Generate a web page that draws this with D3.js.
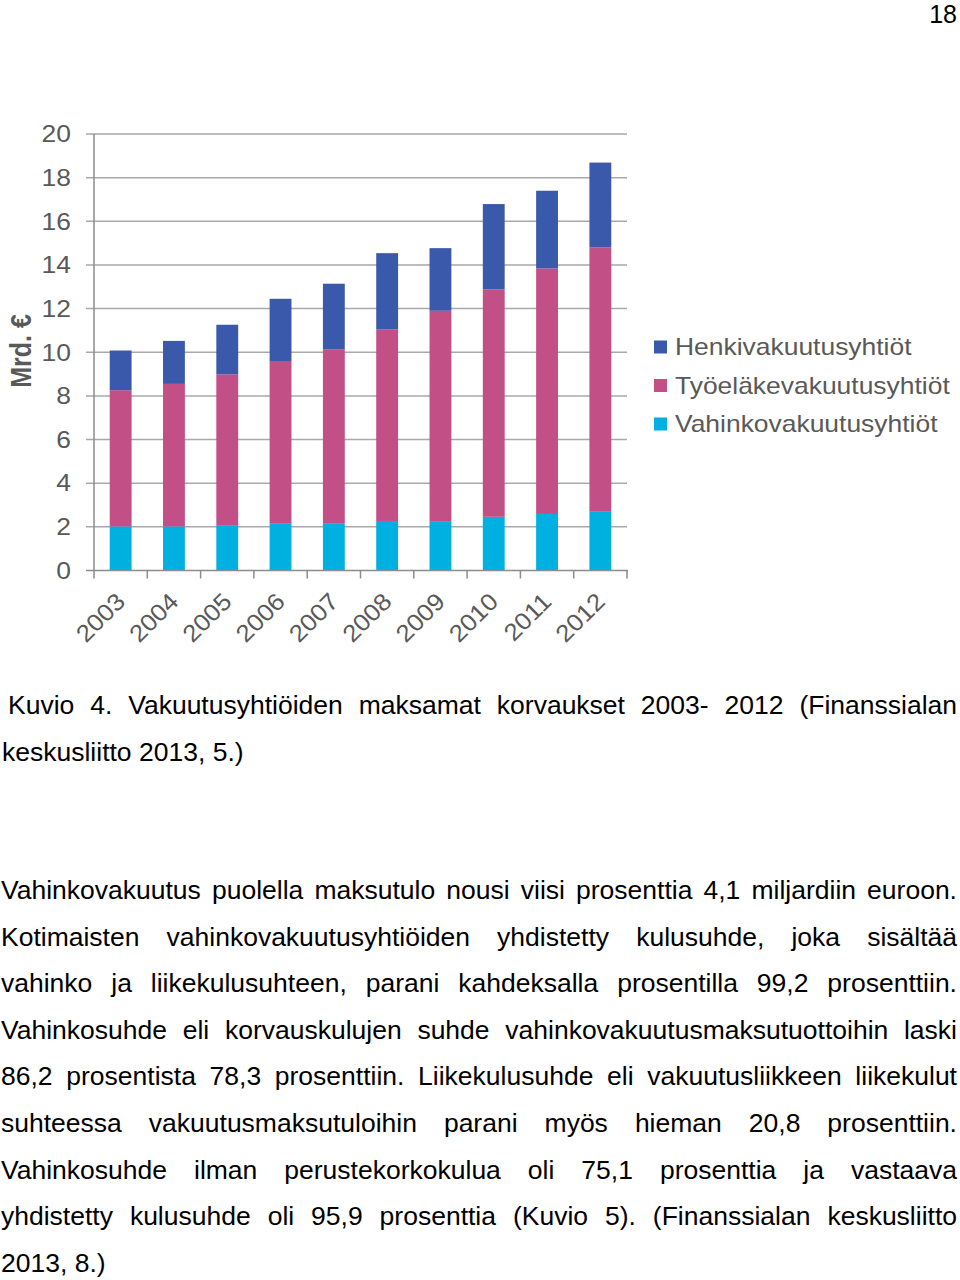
<!DOCTYPE html>
<html><head><meta charset="utf-8">
<script src="https://cdn.jsdelivr.net/npm/d3@7"></script>
<style>
html,body{margin:0;padding:0;background:#fff;}
svg{display:block;}
</style></head>
<body>
<svg id="page" width="960" height="1280"></svg>
<script>
// ---- data ----
const years = ["2003","2004","2005","2006","2007","2008","2009","2010","2011","2012"];
const vahinko  = [2.02, 2.02, 2.08, 2.17, 2.14, 2.27, 2.23, 2.46, 2.59, 2.72];
const tyoelake = [6.24, 6.53, 6.91, 7.43, 8.00, 8.77, 9.67, 10.42, 11.25, 12.08];
const henki    = [1.82, 1.97, 2.27, 2.85, 3.00, 3.50, 2.87, 3.91, 3.56, 3.89];
const seriesNames = ["Henkivakuutusyhtiöt","Työeläkevakuutusyhtiöt","Vahinkovakuutusyhtiöt"];
const yTicks = [0,2,4,6,8,10,12,14,16,18,20];
const yTitle = "Mrd. €";
const pageNumber = "18";
const captionLines = ["Kuvio 4. Vakuutusyhtiöiden maksamat korvaukset 2003- 2012 (Finanssialan",
                      "keskusliitto 2013, 5.)"];
const bodyLines = [
 "Vahinkovakuutus puolella maksutulo nousi viisi prosenttia 4,1 miljardiin euroon.",
 "Kotimaisten vahinkovakuutusyhtiöiden yhdistetty kulusuhde, joka sisältää",
 "vahinko ja liikekulusuhteen, parani kahdeksalla prosentilla 99,2 prosenttiin.",
 "Vahinkosuhde eli korvauskulujen suhde vahinkovakuutusmaksutuottoihin laski",
 "86,2 prosentista 78,3 prosenttiin. Liikekulusuhde eli vakuutusliikkeen liikekulut",
 "suhteessa vakuutusmaksutuloihin parani myös hieman 20,8 prosenttiin.",
 "Vahinkosuhde ilman perustekorkokulua oli 75,1 prosenttia ja vastaava",
 "yhdistetty kulusuhde oli 95,9 prosenttia (Kuvio 5). (Finanssialan keskusliitto",
 "2013, 8.)"
];

const colors = {"Henkivakuutusyhtiöt":"#3b59aa","Työeläkevakuutusyhtiöt":"#c24f86","Vahinkovakuutusyhtiöt":"#00b0e0"};
const FONT = "'Liberation Sans', Arial, Helvetica, sans-serif";
const TXT = "#595959";
const SX = 1.15; // horizontal stretch of chart image text

const svg = d3.select("#page");

// ---- page number ----
svg.append("text").attr("x",957).attr("y",23).attr("text-anchor","end")
  .attr("font-family",FONT).attr("font-size",25).attr("fill","#000").text(pageNumber);

// ---- chart ----
const x = d3.scaleBand().domain(years).range([94,627]).padding(0);
const y = d3.scaleLinear().domain([0,20]).range([570.5,134]);
const g = svg.append("g");

// gridlines
g.selectAll("line.grid").data(yTicks.filter(d=>d>0)).join("line")
  .attr("x1",86).attr("x2",627).attr("y1",d=>y(d)).attr("y2",d=>y(d))
  .attr("stroke","#a9a9a9").attr("stroke-width",1.5);

// stacked data
const table = years.map((yr,i)=>({year:yr,"Vahinkovakuutusyhtiöt":vahinko[i],"Työeläkevakuutusyhtiöt":tyoelake[i],"Henkivakuutusyhtiöt":henki[i]}));
const stack = d3.stack().keys(["Vahinkovakuutusyhtiöt","Työeläkevakuutusyhtiöt","Henkivakuutusyhtiöt"])(table);
const barW = x.bandwidth()*0.41;
g.selectAll("g.series").data(stack).join("g").attr("fill",d=>colors[d.key])
  .selectAll("rect").data(d=>d).join("rect")
  .attr("x",d=>x(d.data.year)+x.bandwidth()/2-barW/2)
  .attr("width",barW)
  .attr("y",d=>y(d[1]))
  .attr("height",d=>y(d[0])-y(d[1]));

// axes lines
g.append("line").attr("x1",94).attr("x2",94).attr("y1",y(20)).attr("y2",y(0))
  .attr("stroke","#8c8c8c").attr("stroke-width",1.5);
g.append("line").attr("x1",86).attr("x2",628).attr("y1",y(0)).attr("y2",y(0))
  .attr("stroke","#8c8c8c").attr("stroke-width",1.5);
// x ticks at band boundaries
const bounds = years.map(d=>x(d)).concat([x(years[years.length-1])+x.bandwidth()]);
g.selectAll("line.xt").data(bounds).join("line")
  .attr("x1",d=>d).attr("x2",d=>d).attr("y1",y(0)).attr("y2",y(0)+8)
  .attr("stroke","#8c8c8c").attr("stroke-width",1.5);

// y tick labels
g.selectAll("text.yl").data(yTicks).join("text")
  .attr("transform",d=>`translate(71,${y(d)}) scale(${SX},1)`)
  .attr("text-anchor","end").attr("dy","0.36em")
  .attr("font-family",FONT).attr("font-size",23).attr("fill",TXT).text(d=>d);

// x tick labels
g.selectAll("text.xl").data(years).join("text")
  .attr("transform",d=>`translate(${x(d)+x.bandwidth()/2+6},${603}) rotate(-45) scale(1.08,1)`)
  .attr("text-anchor","end")
  .attr("font-family",FONT).attr("font-size",24).attr("fill",TXT).text(d=>d);

// y title
g.append("text").attr("transform",`translate(31,351) scale(${SX},1) rotate(-90)`)
  .attr("text-anchor","middle").attr("font-family",FONT).attr("font-size",25)
  .attr("font-weight","bold").attr("fill",TXT).text(yTitle);

// legend
const leg = g.selectAll("g.leg").data(seriesNames).join("g")
  .attr("transform",(d,i)=>`translate(654,${347+i*38.5})`);
leg.append("rect").attr("x",0).attr("y",-6.5).attr("width",13).attr("height",13).attr("fill",d=>colors[d]);
leg.append("text").attr("transform",`translate(21,0) scale(${SX},1)`).attr("dy","0.36em")
  .attr("font-family",FONT).attr("font-size",23).attr("fill",TXT).text(d=>d);

// ---- justified text ----
function drawLine(str, x0, x1, baseline, justify, size){
  const words = str.split(" ");
  const grp = svg.append("g");
  const nodes = words.map(w=>grp.append("text").attr("font-family",FONT).attr("font-size",size)
     .attr("fill","#000").text(w));
  const widths = nodes.map(n=>n.node().getComputedTextLength());
  const sum = d3.sum(widths);
  const space = size*0.278;
  let gap = space, s = 1;
  if (justify && words.length>1) {
    gap = (x1-x0-sum)/(words.length-1);
    if (gap < space*0.6) { gap = space*0.6; s = (x1-x0-gap*(words.length-1))/sum; }
  }
  let cx = x0;
  nodes.forEach((n,i)=>{
    n.attr("transform",`translate(${cx},${baseline}) scale(${s},1)`);
    cx += widths[i]*s + gap;
  });
}
const TS = 26.5;
drawLine(captionLines[0], 8, 957, 714, true, TS);
drawLine(captionLines[1], 2, 957, 761, false, TS);
bodyLines.forEach((l,i)=>{
  drawLine(l, 1, 957, 899 + i*46.6, i < bodyLines.length-1, TS);
});
</script>
</body></html>
